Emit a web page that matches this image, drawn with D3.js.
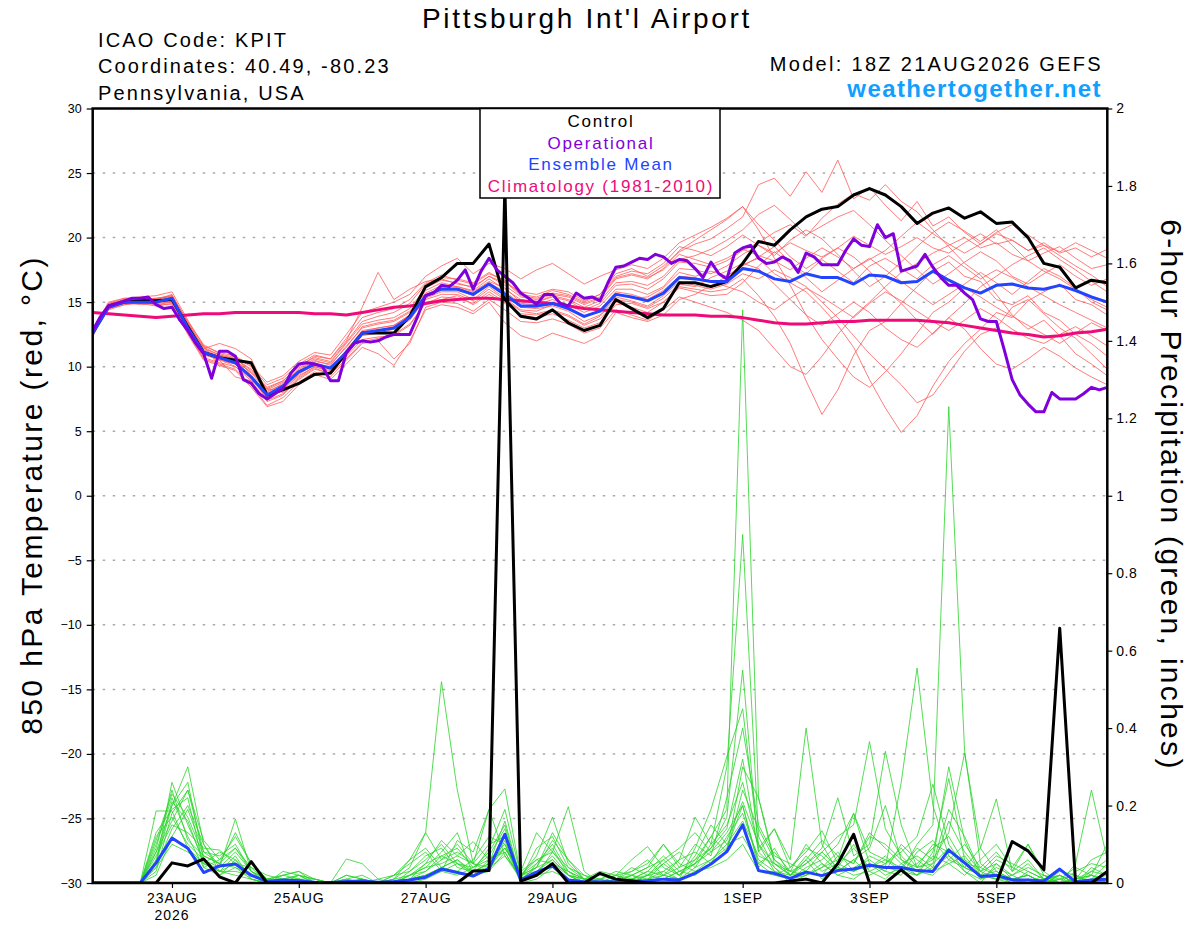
<!DOCTYPE html>
<html>
<head>
<meta charset="utf-8">
<script src="https://cdn.jsdelivr.net/npm/d3@7"></script>
<style>
  body { margin: 0; background: #fff; }
  svg { font-family: "Liberation Sans", Arial, Helvetica, sans-serif; }
</style>
</head>
<body>
<svg id="vis-gefs" width="1200" height="927"></svg>
<script>

// model run 18Z 21AUG2026, 6-hourly out to 384 h
const startTime = Date.UTC(2026, 7, 21, 18);
const endTime   = Date.UTC(2026, 8, 6, 18);

const dayTicks  = [Date.UTC(2026,7,23), Date.UTC(2026,7,25), Date.UTC(2026,7,27), Date.UTC(2026,7,29),
                   Date.UTC(2026,8,1), Date.UTC(2026,8,3), Date.UTC(2026,8,5)];
const tempTicks   = [-30, -25, -20, -15, -10, -5, 0, 5, 10, 15, 20, 25, 30];
const gridTemps   = [-25, -20, -15, -10, -5, 0, 5, 10, 15, 20, 25];
const precipTicks = [0, 0.2, 0.4, 0.6, 0.8, 1, 1.2, 1.4, 1.6, 1.8, 2];

const legendItems = ["Control", "Operational", "Ensemble Mean", "Climatology (1981-2010)"];

// 850 hPa temperature, 6-hourly
const controlTemp = [12.6,14.7,15.0,15.1,15.1,15.2,13.1,11.1,10.7,10.5,
  10.3,7.8,8.2,8.7,9.4,9.5,11.1,12.6,12.6,12.6,
  13.9,16.2,16.9,18.0,18.0,19.5,15.2,13.9,13.7,14.4,
  13.4,12.8,13.2,15.2,14.5,13.8,14.5,16.5,16.5,16.2,
  16.6,18.0,19.7,19.4,20.6,21.6,22.2,22.4,23.3,23.8,
  23.3,22.4,21.1,21.9,22.3,21.5,22.0,21.1,21.2,20.0,
  18.0,17.7,16.1,16.7,16.5];

const meanTemp = [12.6,14.6,15.0,15.0,15.0,15.3,13.0,11.1,10.7,10.3,
  9.2,7.8,8.5,9.6,10.2,9.9,11.1,12.6,12.8,13.0,
  13.8,15.5,16.0,16.0,15.6,16.4,15.6,14.7,14.7,14.9,
  14.5,13.9,14.3,15.6,15.4,15.1,15.7,16.9,16.8,16.6,
  16.6,17.6,17.4,16.8,16.6,17.2,16.9,16.9,16.4,17.1,
  17.0,16.5,16.6,17.4,16.7,16.1,15.7,16.3,16.4,16.1,
  16.0,16.3,15.9,15.4,15.0];

const climTemp = [14.2,14.1,14.0,13.9,13.8,13.9,14.0,14.1,14.1,14.2,
  14.2,14.2,14.2,14.2,14.1,14.1,14.0,14.2,14.4,14.6,
  14.7,14.9,15.1,15.2,15.3,15.3,15.2,15.1,15.0,14.9,
  14.7,14.5,14.4,14.3,14.2,14.1,14.0,14.0,14.0,13.9,
  13.9,13.8,13.6,13.4,13.3,13.3,13.4,13.5,13.5,13.6,
  13.6,13.6,13.6,13.5,13.4,13.2,13.0,12.8,12.6,12.5,
  12.3,12.4,12.6,12.7,12.9];

// operational run, 3-hourly
const operTemp = [12.8,13.9,14.7,14.9,15.1,15.3,15.3,15.4,14.8,14.5,
  14.6,13.6,12.8,11.8,11.0,9.1,11.2,11.2,10.8,9.0,
  8.7,7.9,7.5,7.9,8.3,9.5,10.2,10.3,10.2,10.0,
  8.9,8.9,11.1,11.8,12.0,11.9,12.0,12.3,12.5,12.5,
  12.5,13.9,15.5,15.7,16.3,16.2,16.7,17.5,16.0,17.4,
  18.4,17.5,17.0,16.5,15.7,15.3,14.8,15.6,15.6,14.9,
  14.7,15.7,15.3,15.4,15.1,16.5,17.7,17.8,18.1,18.4,
  18.3,18.7,18.5,18.0,18.3,18.2,17.6,16.9,18.1,17.2,
  16.8,18.8,19.2,19.4,18.4,18.0,18.1,18.5,18.2,17.3,
  18.8,18.5,17.9,17.9,17.9,19.0,19.9,19.4,19.3,21.0,
  20.0,20.3,17.4,17.6,17.8,18.7,17.7,16.9,16.3,16.3,
  15.7,15.2,13.7,13.5,13.5,11.3,9.0,7.8,7.1,6.5,
  6.5,8.0,7.5,7.5,7.5,7.9,8.4,8.2,8.4];

const memberTemp = [
  [12.4,14.8,15.2,15.3,15.2,15.6,13.4,11.5,10.9,10.6, 9.8,8.4,8.9,10.0,10.8,10.6,12.0,14.6,17.3,15.2, 16.0,16.6,16.8,16.4,16.2,17.0,16.5,15.8,15.6,16.0, 15.8,15.1,15.6,17.2,17.6,17.0,17.8,18.9,19.5,19.9, 20.7,21.6,24.1,24.6,23.2,25.1,23.5,26.0,23.0,23.9, 22.5,21.3,22.8,20.9,21.6,20.4,19.5,20.3,19.8,19.0, 19.6,18.8,19.2,18.5,19.1],
  [12.8,14.5,14.9,15.1,14.8,15.0,12.8,11.6,10.0,10.9, 9.3,7.4,7.9,9.0,9.8,9.5,10.8,12.1,12.3,12.4, 13.2,15.0,15.2,15.5,14.8,15.6,14.9,14.0,13.8,14.1, 13.6,13.0,13.4,14.8,14.9,14.5,15.0,16.2,16.0,15.8, 16.0,16.8,15.5,13.9,11.8,8.9,6.3,8.2,10.9,12.8, 13.5,14.9,16.2,17.4,18.1,17.0,16.6,15.2,14.8,15.5, 14.2,13.6,12.5,11.8,10.8],
  [12.5,14.7,15.1,14.9,15.0,15.1,13.1,11.0,10.5,10.2, 9.0,7.6,8.2,9.3,10.0,9.6,10.9,12.4,12.6,12.9, 13.6,15.3,15.8,15.8,15.2,16.2,15.3,14.4,14.3,14.8, 14.5,13.8,14.4,15.7,15.3,15.4,16.1,17.3,17.0,17.4, 17.0,17.9,18.4,17.2,16.5,15.8,14.6,13.2,11.5,9.0, 6.8,4.9,6.2,8.5,10.4,11.8,12.9,14.2,13.8,15.1, 15.8,16.4,15.2,14.8,14.0],
  [12.7,14.6,15.0,15.2,15.3,15.4,13.2,11.3,10.8,10.5, 9.5,8.1,8.6,9.8,10.5,10.1,11.6,13.0,13.3,13.5, 14.2,15.9,16.5,16.2,15.9,16.8,16.0,15.2,15.0,15.4, 15.1,14.4,14.9,16.3,16.4,16.0,16.8,18.1,18.0,17.7, 18.2,19.0,19.6,20.4,21.0,20.1,21.5,22.6,23.4,22.9, 24.1,22.8,22.0,20.6,19.3,18.0,17.1,15.6,14.0,12.9, 13.6,12.4,11.0,10.2,9.3],
  [12.6,14.4,14.8,14.9,14.7,14.9,12.6,10.6,10.2,9.8, 8.6,7.0,7.6,8.8,9.6,9.2,10.5,11.8,12.0,10.6, 11.8,14.6,15.0,14.9,14.3,15.2,14.4,13.5,13.4,13.7, 13.3,12.6,13.0,14.4,14.0,13.6,14.4,15.4,15.0,14.6, 14.2,13.6,12.8,11.4,10.0,9.4,10.8,12.5,13.9,15.0, 16.2,17.3,18.0,18.8,19.4,20.0,19.2,19.6,18.7,18.2, 18.8,19.3,18.4,17.6,17.9],
  [12.9,15.0,15.3,15.4,15.5,15.8,13.6,11.6,11.1,10.8, 10.1,8.8,9.3,10.4,11.1,10.9,12.5,14.2,14.6,15.0, 15.6,17.0,17.8,18.4,17.2,18.0,17.6,16.8,17.5,18.0, 17.2,16.4,17.0,17.5,17.9,17.6,18.4,19.6,20.2,20.8, 21.5,22.4,21.0,19.8,18.5,17.6,18.4,19.2,18.5,17.4, 16.0,14.9,13.6,12.5,13.8,14.9,16.2,17.0,17.9,18.6, 19.2,18.3,17.5,16.6,15.8],
  [12.3,14.9,15.1,15.0,14.9,15.2,13.0,11.2,10.6,10.3, 9.3,7.9,8.3,9.6,10.3,9.9,11.3,12.8,13.0,13.2, 14.0,15.6,16.1,16.0,15.5,16.4,15.6,14.6,14.5,14.7, 14.3,13.5,14.0,15.4,15.1,14.7,15.5,16.6,16.3,16.0, 16.4,17.2,16.8,17.5,16.9,16.2,15.0,13.8,12.4,11.0, 9.8,8.6,7.2,7.8,9.5,11.2,12.5,13.0,14.6,15.2, 14.1,13.0,12.2,11.0,9.8],
  [12.5,14.6,14.9,15.0,15.1,15.2,12.9,10.9,10.6,10.0, 9.1,7.7,8.4,9.5,10.1,9.8,11.0,12.5,12.8,13.1, 13.9,15.4,16.0,16.1,15.7,16.5,15.8,14.9,14.8,15.2, 14.8,14.2,14.7,16.0,16.0,15.6,16.2,17.6,17.5,17.2, 17.8,18.7,19.4,18.8,19.6,19.0,18.5,19.2,20.1,19.4, 18.7,19.3,20.0,19.2,18.8,19.6,20.3,19.5,19.8,19.0, 19.4,18.9,19.6,19.0,18.4],
  [12.6,14.7,15.0,15.1,15.0,15.3,13.3,11.4,11.8,11.4, 10.6,8.0,8.7,9.9,10.6,10.3,11.8,13.3,13.6,13.8, 14.5,16.1,16.7,16.5,16.1,17.0,16.3,15.4,15.2,15.6, 15.4,14.8,15.3,16.8,17.1,16.8,17.6,19.0,19.8,20.6, 21.4,22.4,20.6,18.4,16.3,14.0,12.1,10.6,9.2,8.4, 9.6,11.0,12.6,14.2,15.0,16.1,15.4,14.6,13.9,13.2, 12.5,11.8,12.6,13.4,12.8],
  [12.7,14.5,14.9,15.2,15.1,15.1,12.7,10.7,10.3,10.0, 8.9,7.3,7.8,9.1,9.9,9.4,10.6,11.9,12.2,12.5, 13.3,14.9,15.4,15.3,14.9,15.8,15.0,14.1,14.0,14.3, 13.9,13.2,13.7,15.0,14.6,14.2,15.0,16.1,15.8,15.5, 15.6,16.5,17.8,18.9,18.0,17.2,18.3,17.4,16.5,17.8, 18.4,17.6,16.8,17.9,18.6,17.7,16.8,17.5,16.9,16.2, 15.5,14.8,14.2,13.6,13.0],
  [12.4,14.8,15.2,15.2,15.3,15.5,13.5,11.7,11.0,10.7, 10.0,8.6,9.1,10.2,10.9,10.6,12.2,13.8,14.2,14.5, 15.2,16.5,17.1,16.7,16.4,17.2,16.7,15.6,15.4,15.9, 15.6,15.0,15.6,17.0,17.4,17.2,18.0,19.3,19.0,18.6, 19.3,20.2,19.4,18.6,19.8,20.6,19.9,18.7,17.4,16.2, 17.0,18.1,19.3,20.4,21.2,20.5,19.7,20.6,19.4,18.2, 17.4,16.8,16.0,15.2,14.6],
  [12.8,14.6,15.0,14.8,14.9,15.0,12.9,11.0,10.5,9.2, 8.9,8.3,8.0,9.2,10.0,9.7,11.1,12.6,12.8,13.0, 13.7,15.2,15.6,15.6,15.1,16.0,15.2,14.3,14.1,14.4, 14.0,13.3,13.9,15.2,15.0,14.6,15.3,16.4,16.2,16.9, 17.4,18.0,17.6,16.4,15.2,14.0,13.2,14.1,15.0,14.2, 13.0,12.1,11.5,12.6,13.8,12.9,11.4,10.2,9.8,10.6, 11.5,10.8,9.9,9.2,8.6],
  [12.6,14.9,15.3,15.1,15.0,15.4,13.2,11.2,10.8,10.4, 9.6,8.2,8.8,9.7,10.4,10.2,11.5,13.1,13.4,13.6, 14.3,15.7,16.3,16.2,15.8,16.6,16.1,15.0,15.0,15.5, 15.2,14.6,15.1,16.5,16.6,16.3,17.0,18.3,18.6,19.1, 19.8,20.6,21.8,22.5,21.4,20.2,20.9,21.6,22.1,21.0, 19.8,18.6,17.5,16.4,17.2,18.1,18.9,18.2,17.0,16.4, 17.2,17.9,17.0,16.3,16.8],
  [12.5,14.5,14.8,15.0,14.8,14.8,12.5,10.5,10.1,9.7, 8.4,6.9,7.3,8.6,9.4,9.0,10.2,11.5,11.0,10.1, 12.0,14.4,14.8,14.6,14.1,15.0,13.4,12.4,12.0,12.6, 12.2,11.8,12.4,14.2,13.8,13.5,14.0,15.2,15.6,16.3, 17.0,17.8,18.5,19.3,18.1,16.9,15.8,16.7,17.6,18.4, 17.5,16.6,15.7,14.8,15.6,16.4,17.3,16.5,15.6,16.6, 17.6,17.0,16.1,15.0,14.4],
  [12.7,14.8,15.1,15.2,15.2,15.5,13.4,11.4,10.9,10.6, 9.7,8.3,8.9,10.1,10.7,10.4,11.9,13.5,13.9,14.2, 14.9,16.4,16.9,16.8,16.5,17.3,16.6,15.5,15.3,15.7, 15.5,14.9,15.4,16.9,17.2,16.9,17.5,18.7,18.3,17.9, 18.4,19.1,18.6,18.2,17.5,18.4,19.2,18.5,17.6,18.3, 19.0,20.1,21.2,20.3,19.5,18.8,19.5,20.4,21.0,20.2, 19.4,18.6,17.8,17.1,16.2],
  [12.6,14.6,15.1,15.0,15.2,15.2,13.0,11.0,10.6,10.2, 9.2,7.7,8.3,9.4,10.2,9.8,11.2,12.7,13.0,13.2, 14.0,15.5,16.1,16.1,15.6,16.4,15.5,14.6,14.6,15.0, 14.6,13.9,14.4,15.8,15.6,15.2,15.9,17.0,16.9,16.6, 16.2,15.8,15.0,14.4,15.3,16.1,15.4,14.6,13.8,14.9, 15.8,15.1,14.3,13.5,12.8,13.6,14.5,13.8,12.9,12.2, 11.8,12.5,13.1,12.4,11.6]
];

// 6-hour precipitation (inches)
const controlPrecip = [0,0,0,0,0,0.052,0.044,0.062,0.016,0,
  0.055,0,0,0,0,0,0,0,0,0,
  0,0,0,0,0.031,0.032,1.80,0.005,0.02,0.05,
  0,0,0.025,0.01,0.005,0,0,0,0,0,
  0,0,0,0,0.005,0.01,0,0.05,0.126,0,
  0,0.034,0,0,0,0,0,0,0.107,0.083,
  0.034,0.658,0,0,0.03];

const meanPrecip = [0,0,0,0,0.052,0.116,0.09,0.027,0.044,0.049,
  0.02,0.004,0.008,0.006,0.002,0.001,0.004,0.005,0.002,0.004,
  0.008,0.015,0.036,0.027,0.018,0.038,0.126,0.008,0.028,0.044,
  0.008,0.003,0.003,0.003,0.005,0.006,0.01,0.008,0.025,0.049,
  0.081,0.15,0.032,0.025,0.012,0.028,0.019,0.032,0.036,0.046,
  0.04,0.04,0.032,0.03,0.085,0.052,0.017,0.02,0.008,0.008,
  0.005,0.036,0.003,0.008,0.01];

const memberPrecip = [
  [0,0,0,0,0.05,0.26,0.15,0.06,0.02,0.04, 0.01,0,0,0.01,0,0,0,0,0,0.01, 0.04,0.13,0.52,0.24,0.05,0.03,0.08,0.01,0.02,0.05, 0.03,0.01,0,0.01,0.02,0,0.01,0.03,0.05,0.12, 0.19,1.48,0.22,0.05,0.02,0.06,0.01,0.04,0.02,0.03, 0.01,0.05,0.02,0.08,0.27,0.06,0.01,0.02,0,0.01, 0,0.02,0,0.01,0],
  [0,0,0,0,0.08,0.2,0.3,0.1,0.04,0.165, 0.03,0,0.01,0.02,0,0,0.02,0.01,0,0, 0.02,0.04,0.08,0.13,0.02,0.06,0.1,0,0.05,0.09, 0.02,0,0,0,0.01,0.03,0.02,0.06,0.17,0.1, 0.3,0.9,0.12,0.04,0,0.02,0.05,0.02,0.01,0.04, 0.06,0.03,0.1,0.15,1.23,0.34,0.05,0.02,0.01,0, 0,0.01,0.02,0,0.01],
  [0,0,0,0,0.186,0.186,0.09,0.05,0.08,0.06, 0.02,0.01,0.02,0.01,0,0,0,0,0,0.02, 0.05,0.08,0.03,0.11,0.08,0.19,0.243,0.02,0.07,0.17, 0.05,0.01,0.02,0.01,0,0.02,0.06,0.02,0.05,0.09, 0.14,0.32,0.08,0.14,0.06,0.4,0.1,0.03,0.06,0.02, 0.04,0.26,0.555,0.2,0.07,0.03,0,0.05,0.01,0.02, 0,0,0.01,0.03,0.02],
  [0,0,0,0,0.03,0.18,0.24,0.08,0.05,0.13, 0.05,0.01,0.02,0.03,0.01,0,0.01,0.02,0,0, 0.01,0.02,0.04,0.06,0.03,0.05,0.09,0.03,0.13,0.08, 0.197,0.03,0,0.02,0.03,0.06,0.02,0.01,0.09,0.19, 0.326,0.45,0.1,0.05,0.02,0.03,0.08,0.12,0.15,0.365, 0.14,0.07,0.03,0.02,0.06,0.1,0.04,0.02,0,0.03, 0.01,0,0.05,0.24,0.06],
  [0,0,0,0,0.1,0.22,0.12,0.04,0.06,0.09, 0.04,0,0,0.02,0.01,0,0,0,0.01,0.02, 0.03,0.06,0.1,0.05,0.04,0.08,0.15,0.01,0.04,0.11, 0.06,0.02,0.01,0,0.02,0.04,0.1,0.05,0.03,0.06, 0.09,0.2,0.05,0.08,0.03,0.05,0.09,0.22,0.07,0.1, 0.34,0.15,0.04,0.06,0.13,0.336,0.09,0.03,0.01,0, 0.02,0,0,0.02,0.1],
  [0,0,0,0,0.04,0.14,0.2,0.1,0.03,0.05, 0.02,0.01,0,0,0,0,0.01,0,0,0, 0.01,0.03,0.06,0.08,0.05,0.1,0.12,0.02,0.03,0.06, 0.02,0,0,0.01,0.03,0.05,0.1,0.04,0.06,0.12, 0.08,0.3,0.22,0.06,0.03,0.02,0.04,0.06,0.18,0.05, 0.03,0.02,0.08,0.11,0.06,0.04,0.09,0.217,0.03,0.1, 0.02,0.01,0,0,0.03],
  [0,0,0,0,0.12,0.17,0.1,0.06,0.04,0.08, 0.03,0,0.03,0.02,0,0,0,0.01,0,0.01, 0.02,0.05,0.07,0.09,0.04,0.07,0.14,0.01,0.02,0.08, 0.04,0.01,0,0,0.01,0.02,0.05,0.08,0.04,0.1, 0.15,0.26,0.09,0.14,0.04,0.08,0.135,0.05,0.03,0.07, 0.05,0.08,0.12,0.255,0.1,0.04,0.02,0.06,0.04,0.1, 0.03,0,0.01,0.02,0],
  [0,0,0,0,0.06,0.21,0.16,0.05,0.03,0.07, 0.01,0,0.01,0,0,0,0.01,0,0,0.01, 0.06,0.13,0.06,0.1,0.05,0.19,0.07,0.02,0.05,0.1, 0.03,0,0.01,0.02,0,0.01,0.03,0.06,0.08,0.05, 0.12,0.18,0.06,0.03,0.01,0.04,0.06,0.1,0.18,0.08, 0.06,0.04,0.02,0.05,0.09,0.03,0.01,0.04,0.02,0.05, 0.01,0.02,0,0.01,0.02],
  [0,0,0,0,0.02,0.12,0.19,0.08,0.07,0.1, 0.03,0.01,0,0.01,0.01,0,0.02,0.01,0,0, 0.02,0.04,0.05,0.07,0.107,0.06,0.09,0.03,0.06,0.05, 0.02,0.01,0.03,0.02,0.06,0.094,0.04,0.02,0.07,0.15, 0.1,0.16,0.07,0.05,0.03,0.1,0.05,0.02,0.04,0.06, 0.03,0.1,0.06,0.03,0.05,0.07,0.02,0.03,0.01,0.02, 0,0.03,0.02,0,0.01],
  [0,0,0,0,0.09,0.24,0.11,0.07,0.05,0.04, 0.02,0,0,0,0,0,0,0,0,0, 0,0.01,0.03,0.05,0.02,0.04,0.07,0.01,0.09,0.12, 0.04,0.02,0,0,0,0.01,0.02,0.04,0.1,0.07, 0.22,0.4,0.15,0.07,0.05,0.03,0.02,0.07,0.05,0.13, 0.09,0.05,0.07,0.04,0.16,0.08,0.03,0.01,0.02,0, 0.01,0,0.03,0.05,0.04],
  [0,0,0,0,0.07,0.15,0.13,0.09,0.085,0.05, 0.04,0.02,0.01,0.01,0,0,0,0,0,0, 0.01,0.02,0.04,0.03,0.06,0.12,0.1,0.02,0.04,0.13, 0.06,0.01,0,0.01,0.04,0.02,0.01,0.03,0.05,0.08, 0.13,0.2,0.04,0.09,0.02,0.07,0.03,0.05,0.09,0.04, 0.07,0.03,0.05,0.09,0.12,0.05,0.04,0.08,0.03,0.06, 0.01,0,0,0.04,0.02],
  [0,0,0,0,0.13,0.19,0.22,0.04,0.02,0.06, 0.01,0,0.02,0.03,0,0,0.062,0.05,0.01,0, 0.03,0.07,0.09,0.04,0.03,0.05,0.16,0.01,0.03,0.07, 0.02,0,0,0.01,0,0.02,0.03,0.01,0.04,0.06, 0.1,0.12,0.05,0.02,0.04,0.09,0.07,0.03,0.06,0.09, 0.2,0.06,0.03,0.07,0.05,0.02,0.06,0.1,0.04,0.02, 0,0.02,0,0.01,0.05],
  [0,0,0,0,0.05,0.2,0.26,0.06,0.03,0.03, 0.02,0,0,0,0,0,0,0,0,0.02, 0.06,0.09,0.04,0.06,0.02,0.03,0.11,0,0.01,0.04, 0.01,0,0.01,0.03,0.02,0.01,0.05,0.02,0.06,0.09, 0.17,0.55,0.08,0.04,0.01,0.02,0.04,0.08,0.03,0.05, 0.02,0.04,0.09,0.06,0.3,0.11,0.02,0.01,0,0.01, 0,0.01,0.04,0.02,0],
  [0,0,0,0,0.11,0.23,0.17,0.07,0.05,0.09, 0.03,0.01,0,0,0,0,0,0,0,0, 0.02,0.03,0.07,0.05,0.03,0.09,0.19,0.02,0.06,0.08, 0.03,0.01,0,0.02,0.01,0.03,0.07,0.03,0.02,0.05, 0.08,0.24,0.14,0.06,0.02,0.05,0.08,0.04,0.1,0.03, 0.05,0.09,0.04,0.05,0.19,0.12,0.03,0.05,0.02,0.04, 0.02,0,0.01,0.06,0.08],
  [0,0,0,0,0.04,0.1,0.08,0.05,0.03,0.02, 0.01,0,0,0.01,0,0,0,0,0,0, 0.01,0.02,0.03,0.02,0.04,0.06,0.08,0.01,0.02,0.03, 0.01,0,0,0,0.01,0,0.02,0.01,0.03,0.04, 0.06,0.1,0.03,0.02,0.01,0.03,0.02,0.04,0.03,0.05, 0.04,0.03,0.02,0.04,0.07,0.04,0.02,0.01,0.01,0.02, 0,0,0.01,0.02,0.01],
  [0,0,0,0,0.08,0.16,0.24,0.11,0.06,0.12, 0.05,0.01,0.01,0.02,0.01,0,0,0.01,0,0, 0.01,0.05,0.11,0.07,0.05,0.04,0.09,0.02,0.04,0.06, 0.02,0.01,0.01,0,0.02,0.04,0.06,0.09,0.13,0.08, 0.11,0.21,0.1,0.03,0.02,0.06,0.11,0.07,0.05,0.12, 0.1,0.06,0.04,0.1,0.08,0.06,0.03,0.07,0.05,0.03, 0.01,0.02,0,0.03,0.06]
];

const gefs = {

    dims : { left : 92.7, right : 1107.3, top : 108.5, bottom : 883 },

    colors : {
        member : "#ff5a5a",
        precip : "#2ad42a",
        control : "#000000",
        oper : "#8000dc",
        mean : "#2244ff",
        clim : "#ee0a78",
        site : "#12a0ff"
    },

    scales : {},

    init : function() {

        const d = gefs.dims;

        gefs.scales.x = d3.scaleUtc()
            .domain([new Date(startTime), new Date(endTime)])
            .range([d.left, d.right]);

        gefs.scales.temp = d3.scaleLinear()
            .domain([-30, 30])
            .range([d.bottom, d.top]);

        gefs.scales.precip = d3.scaleLinear()
            .domain([0, 2])
            .range([d.bottom, d.top]);

        gefs.render.frame();
        gefs.render.series();
        gefs.render.axes();
        gefs.render.texts();

    },

    // time of the i-th step
    t : (i, hours) => new Date(startTime + i * hours * 3600e3),

    line : function(scale, hours) {
        return d3.line()
            .x((v, i) => gefs.scales.x(gefs.t(i, hours)))
            .y(v => scale(v));
    },

    render : {

        frame : function() {

            const svg = d3.select("svg#vis-gefs");
            const d = gefs.dims;

            svg.append("defs").append("clipPath").attr("id", "plot-clip")
                .append("rect")
                .attr("x", d.left).attr("y", d.top)
                .attr("width", d.right - d.left).attr("height", d.bottom - d.top);

            svg.append("g")
                .selectAll("line")
                .data(gridTemps)
                .join("line")
                .attr("x1", d.left).attr("x2", d.right)
                .attr("y1", v => gefs.scales.temp(v))
                .attr("y2", v => gefs.scales.temp(v))
                .attr("stroke", "#aaaaaa")
                .attr("stroke-width", 1.5)
                .attr("stroke-dasharray", "2.5 7.5");

        },

        series : function() {

            const svg = d3.select("svg#vis-gefs");
            const c = gefs.colors;
            const s = gefs.scales;

            const g = svg.append("g").attr("clip-path", "url(#plot-clip)");

            g.append("g")
                .selectAll("path")
                .data(memberTemp)
                .join("path")
                .attr("fill", "none")
                .attr("stroke", c.member)
                .attr("stroke-width", 0.8)
                .attr("d", gefs.line(s.temp, 6));

            g.append("g")
                .selectAll("path")
                .data(memberPrecip)
                .join("path")
                .attr("fill", "none")
                .attr("stroke", c.precip)
                .attr("stroke-width", 0.8)
                .attr("d", gefs.line(s.precip, 6));

            const thick = [
                { data : climTemp,      scale : s.temp,   hours : 6, color : c.clim },
                { data : controlTemp,   scale : s.temp,   hours : 6, color : c.control },
                { data : meanTemp,      scale : s.temp,   hours : 6, color : c.mean },
                { data : operTemp,      scale : s.temp,   hours : 3, color : c.oper },
                { data : meanPrecip,    scale : s.precip, hours : 6, color : c.mean },
                { data : controlPrecip, scale : s.precip, hours : 6, color : c.control }
            ];

            g.append("g")
                .selectAll("path")
                .data(thick)
                .join("path")
                .attr("fill", "none")
                .attr("stroke", d => d.color)
                .attr("stroke-width", 3)
                .attr("stroke-linejoin", "round")
                .attr("d", d => gefs.line(d.scale, d.hours)(d.data));

        },

        axes : function() {

            const svg = d3.select("svg#vis-gefs");
            const d = gefs.dims;
            const s = gefs.scales;

            const left = svg.append("g")
                .attr("transform", `translate(${d.left},0)`)
                .call(d3.axisLeft(s.temp).tickValues(tempTicks).tickSize(6).tickPadding(5));

            left.selectAll("text").attr("font-size", 12.5).attr("font-family", null);

            const right = svg.append("g")
                .attr("transform", `translate(${d.right},0)`)
                .call(d3.axisRight(s.precip).tickValues(precipTicks).tickSize(5).tickPadding(4)
                    .tickFormat(v => String(+v.toFixed(1))));

            right.selectAll("text").attr("font-size", 14).attr("letter-spacing", 0.5).attr("font-family", null);

            const bottom = svg.append("g")
                .attr("transform", `translate(0,${d.bottom})`)
                .call(d3.axisBottom(s.x).tickValues(dayTicks.map(t => new Date(t))).tickSize(5).tickPadding(5)
                    .tickFormat(t => d3.utcFormat("%-d%b")(t).toUpperCase()));

            bottom.selectAll("text").attr("font-size", 14).attr("letter-spacing", 1).attr("font-family", null);

            [left, right, bottom].forEach(a => {
                a.select(".domain").remove();
                a.selectAll(".tick line").attr("stroke-width", 1.2);
            });

            bottom.append("text")
                .attr("x", s.x(new Date(dayTicks[0])))
                .attr("y", 37)
                .attr("fill", "#000")
                .attr("text-anchor", "middle")
                .attr("font-size", 14)
                .attr("letter-spacing", 1)
                .text("2026");

            // plot frame
            svg.append("rect")
                .attr("x", d.left).attr("y", d.top)
                .attr("width", d.right - d.left).attr("height", d.bottom - d.top)
                .attr("fill", "none")
                .attr("stroke", "#000")
                .attr("stroke-width", 2.5);

        },

        texts : function() {

            const svg = d3.select("svg#vis-gefs");
            const c = gefs.colors;

            // legend box
            const lg = svg.append("g");
            lg.append("rect")
                .attr("x", 480).attr("y", 108.5)
                .attr("width", 240).attr("height", 89.5)
                .attr("fill", "#fff")
                .attr("stroke", "#000")
                .attr("stroke-width", 1.5);

            const legendColors = [c.control, c.oper, c.mean, c.clim];
            lg.selectAll("text")
                .data(legendItems)
                .join("text")
                .attr("x", 601)
                .attr("y", (v, i) => 127 + i * 21.5)
                .attr("text-anchor", "middle")
                .attr("font-size", 17)
                .attr("letter-spacing", 1.75)
                .attr("fill", (v, i) => legendColors[i])
                .text(v => v);

            svg.append("text")
                .attr("x", 587).attr("y", 28)
                .attr("text-anchor", "middle")
                .attr("font-size", 28)
                .attr("letter-spacing", 2.7)
                .text("Pittsburgh Int'l Airport");

            const info = ["ICAO Code: KPIT", "Coordinates: 40.49, -80.23", "Pennsylvania, USA"];
            svg.append("g")
                .selectAll("text")
                .data(info)
                .join("text")
                .attr("x", 98)
                .attr("y", (v, i) => 47 + i * 26.3)
                .attr("font-size", 20)
                .attr("letter-spacing", 2.15)
                .text(v => v);

            svg.append("text")
                .attr("x", 1103).attr("y", 71)
                .attr("text-anchor", "end")
                .attr("font-size", 20)
                .attr("letter-spacing", 2.3)
                .text("Model: 18Z 21AUG2026 GEFS");

            svg.append("text")
                .attr("x", 1102).attr("y", 97)
                .attr("text-anchor", "end")
                .attr("font-size", 24)
                .attr("font-weight", "bold")
                .attr("letter-spacing", 1.4)
                .attr("fill", c.site)
                .text("weathertogether.net");

            svg.append("text")
                .attr("transform", "translate(42,495) rotate(-90)")
                .attr("text-anchor", "middle")
                .attr("font-size", 30)
                .attr("letter-spacing", 2.4)
                .text("850 hPa Temperature (red, °C)");

            svg.append("text")
                .attr("transform", "translate(1161,495) rotate(90)")
                .attr("text-anchor", "middle")
                .attr("font-size", 30)
                .attr("letter-spacing", 2.3)
                .text("6-hour Precipitation (green, inches)");

        }

    }

};

gefs.init();
</script>
</body>
</html>
